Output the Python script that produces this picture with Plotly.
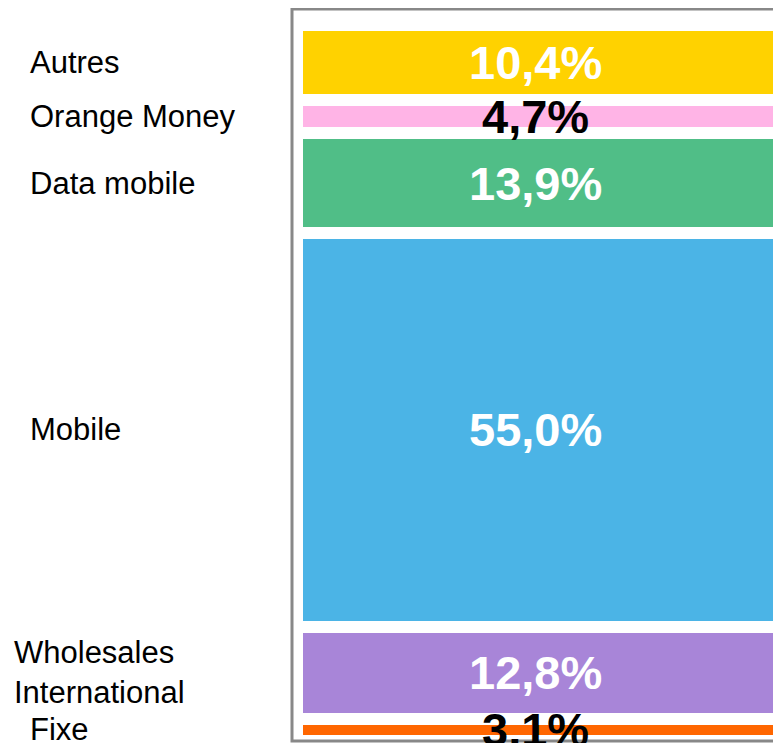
"""Répartition du chiffre d'affaires par activité — barre empilée unique."""

import plotly.graph_objects as go

# segments du bas vers le haut
segments = ["Fixe", "Wholesales<br>International", "Mobile", "Data mobile", "Orange Money", "Autres"]
shares = [3.1, 12.8, 55.0, 13.9, 4.7, 10.4]
seg_colors = ["#FF6600", "#A885D8", "#4BB4E6", "#50BE87", "#FFB4E6", "#FFD200"]
# texte noir quand le segment est trop fin pour contenir l'étiquette
text_colors = ["black", "white", "white", "white", "black", "white"]

FONT = "Liberation Sans, Arial, sans-serif"


def fmt_pct(v):
    return f"{v:.1f}".replace(".", ",") + "%"


fig = go.Figure()
for name, val, col in zip(segments, shares, seg_colors):
    fig.add_trace(go.Bar(
        x=[0], y=[val], width=1, name=name,
        marker=dict(color=col, line=dict(color="white", width=12)),
        hoverinfo="skip",
    ))

annotations = []
base = 0.0
for name, val, tcol in zip(segments, shares, text_colors):
    mid = base + val / 2
    base += val
    # libellé à gauche
    annotations.append(dict(
        x=0, xref="paper", y=mid, yref="y", text=name, showarrow=False,
        xanchor="left", align="left",
        xshift=-280 if "<br>" in name else -264,
        font=dict(family=FONT, size=31, color="black"),
    ))
    # pourcentage dans le segment
    annotations.append(dict(
        x=0, xref="x", y=mid, yref="y", text=fmt_pct(val), showarrow=False,
        xshift=-6,
        font=dict(family=FONT, size=47, color=tcol, weight="bold"),
    ))

fig.update_layout(
    barmode="stack",
    width=773, height=735,
    margin=dict(l=284, r=0, t=1, b=2),
    paper_bgcolor="white", plot_bgcolor="white",
    showlegend=False,
    xaxis=dict(visible=False, range=[-0.51025, 0.4918], fixedrange=True),
    yaxis=dict(visible=False, range=[0, 102.13], fixedrange=True),
    annotations=annotations,
    shapes=[dict(type="rect", xref="paper", yref="paper", x0=0, x1=1.05, y0=0, y1=1,
                 line=dict(color="#888888", width=3), layer="above")],
)

fig.write_html("out.html")
